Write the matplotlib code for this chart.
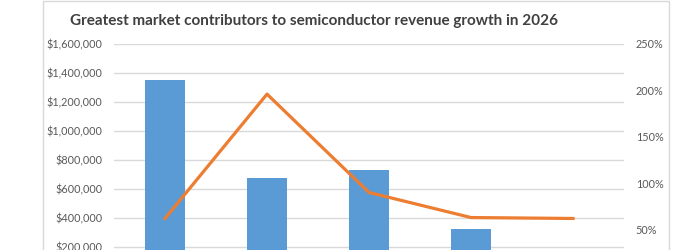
import matplotlib.pyplot as plt
from matplotlib.patches import Rectangle
from matplotlib.ticker import FuncFormatter

# --- Data (bottom of chart is cropped) ---
categories = ["A", "B", "C", "D", "E"]
revenue = [1350000, 675000, 730000, 325000, 120000]   # $ (left axis)
growth = [62, 196, 90, 63, 62]                         # % (right axis)

bar_color = "#5B9BD5"
line_color = "#ED7D31"
text_color = "#595959"
grid_color = "#D9D9D9"

plt.rcParams["font.family"] = ["Lato", "DejaVu Sans"]

fig = plt.figure(figsize=(7, 2.5), dpi=100)

# chart frame (continues below the visible area)
fig.patches.append(Rectangle((43 / 700, -0.5), (669 - 43) / 700, 1.5 - 1 / 250,
                             transform=fig.transFigure, fill=False,
                             edgecolor="#D9D9D9", linewidth=1))

# plot area: top at y=44px, zero line at y=276px (below the crop)
ax = fig.add_axes([114 / 700, 1 - 276 / 250, (624 - 114) / 700, (276 - 44) / 250])
x = range(len(categories))
ax.bar(x, revenue, width=0.4, color=bar_color, zorder=2)
ax.set_ylim(0, 1600000)
ax.set_yticks(range(0, 1600001, 200000))
ax.yaxis.set_major_formatter(FuncFormatter(lambda v, p: f"${v:,.0f}"))
ax.set_xlim(-0.5, len(categories) - 0.5)
# category labels sit below the cropped edge, so they are not drawn
ax.set_xticks(list(x))
ax.set_xticklabels([])
ax.grid(axis="y", color=grid_color, linewidth=1, zorder=0)
ax.tick_params(axis="y", length=0, pad=8.5, labelsize=7.8, labelcolor=text_color)
ax.tick_params(axis="x", length=0)
for s in ax.spines.values():
    s.set_visible(False)

ax2 = ax.twinx()
ax2.plot(x, growth, color=line_color, linewidth=2.3, zorder=3)
ax2.set_ylim(0, 250)
ax2.set_yticks(range(0, 251, 50))
ax2.yaxis.set_major_formatter(FuncFormatter(lambda v, p: f"{v:.0f}%"))
ax2.tick_params(axis="y", length=0, pad=8.5, labelsize=7.8, labelcolor=text_color)
for s in ax2.spines.values():
    s.set_visible(False)

fig.text(314 / 700, 1 - 21 / 250,
         "Greatest market contributors to semiconductor revenue growth in 2026",
         ha="center", va="center", fontsize=11, fontweight="bold", color="#404040")

fig.savefig("out.png", dpi=100)
